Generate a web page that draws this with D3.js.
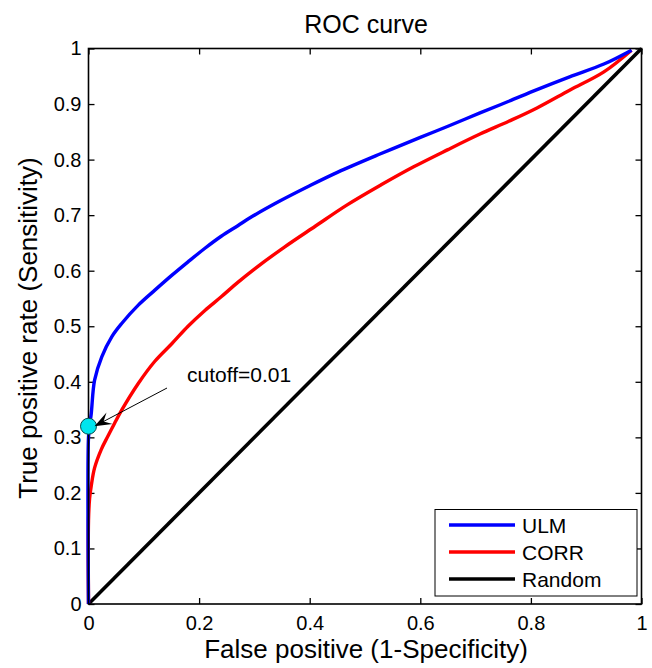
<!DOCTYPE html>
<html><head><meta charset="utf-8">
<script src="https://cdn.jsdelivr.net/npm/d3@7"></script>
<style>body{margin:0;background:#fff}svg{display:block}text{font-family:"Liberation Sans",Arial,sans-serif;fill:#000}</style>
</head><body><svg id="c" width="652" height="668"></svg>
<script>
const ulmFpr = [0,0,0.002,0.005,0.011,0.024,0.042,0.06,0.09,0.12,0.151,0.18,0.21,0.24,0.27,0.295,0.345,0.4,0.45,0.527,0.6,0.65,0.708,0.76,0.811,0.87,0.932,0.982];
const ulmTpr = [0,0.30,0.32,0.343,0.403,0.445,0.481,0.505,0.538,0.565,0.592,0.616,0.64,0.662,0.681,0.697,0.725,0.753,0.777,0.81,0.84,0.86,0.884,0.905,0.926,0.949,0.972,0.997];
const corrFpr = [0,0,0.002,0.005,0.011,0.023,0.035,0.047,0.06,0.09,0.12,0.151,0.18,0.21,0.24,0.27,0.30,0.355,0.41,0.467,0.53,0.588,0.65,0.708,0.76,0.811,0.87,0.932,0.982];
const corrTpr = [0,0.15,0.19,0.213,0.245,0.278,0.302,0.325,0.349,0.397,0.437,0.469,0.5,0.528,0.553,0.579,0.603,0.643,0.68,0.718,0.755,0.787,0.818,0.846,0.869,0.893,0.925,0.958,0.997];
const randFpr = [0,1];
const randTpr = [0,1];
const seriesNames = ["ULM","CORR","Random"];
const seriesColors = ["#0000ff","#ff0000","#000000"];
const xTicks = [0,0.2,0.4,0.6,0.8,1];
const yTicks = [0,0.1,0.2,0.3,0.4,0.5,0.6,0.7,0.8,0.9,1];
const cutoff = {fpr:0, tpr:0.32, label:"cutoff=0.01"};

const svg = d3.select("#c");
const L=88.5, R=641.5, T=48.5, B=604;
const x = d3.scaleLinear().domain([0,1]).range([L,R]);
const y = d3.scaleLinear().domain([0,1]).range([B,T]);
const fmt = d => d===0?"0":(d===1?"1":String(d));

const gx = svg.append("g").attr("transform",`translate(0,${B})`)
  .call(d3.axisBottom(x).tickValues(xTicks).tickSizeInner(-6).tickSizeOuter(0).tickPadding(12).tickFormat(fmt));
const gxt = svg.append("g").attr("transform",`translate(0,${T})`)
  .call(d3.axisTop(x).tickValues(xTicks).tickSizeInner(-6).tickSizeOuter(0).tickFormat(""));
const gy = svg.append("g").attr("transform",`translate(${L},0)`)
  .call(d3.axisLeft(y).tickValues(yTicks).tickSizeInner(-6).tickSizeOuter(0).tickPadding(7).tickFormat(fmt));
const gyr = svg.append("g").attr("transform",`translate(${R},0)`)
  .call(d3.axisRight(y).tickValues(yTicks).tickSizeInner(-6).tickSizeOuter(0).tickFormat(""));
[gx,gxt,gy,gyr].forEach(g=>{
  g.select(".domain").remove();
  g.selectAll(".tick line").attr("stroke","#000").attr("stroke-width",1.3);
  g.selectAll("text").attr("font-size",20).attr("font-family","Liberation Sans, Arial, sans-serif").attr("fill","#000");
});
gx.selectAll("text").attr("dy","0.71em");

const line = d3.line().x(d=>x(d[0])).y(d=>y(d[1])).curve(d3.curveCatmullRom.alpha(0.5));
const data = [
  d3.zip(ulmFpr,ulmTpr),
  d3.zip(corrFpr,corrTpr),
  d3.zip(randFpr,randTpr)
];
[2,1,0].forEach(i=>{
  svg.append("path").datum(data[i]).attr("d",line).attr("fill","none")
    .attr("stroke",seriesColors[i]).attr("stroke-width",i===2?3.6:3.4)
    .attr("stroke-linejoin","round");
});

svg.append("rect").attr("x",L).attr("y",T).attr("width",R-L).attr("height",B-T)
  .attr("fill","none").attr("stroke","#000").attr("stroke-width",1.6);

const cx = x(cutoff.fpr), cy = y(cutoff.tpr);
svg.append("circle").attr("cx",cx).attr("cy",cy).attr("r",8)
  .attr("fill","#00e5ee").attr("stroke","#0a4a4a").attr("stroke-width",1);
const tail=[167,388], tip=[cx+6,cy];
const ang=Math.atan2(tip[1]-tail[1],tip[0]-tail[0]);
svg.append("line").attr("x1",tail[0]).attr("y1",tail[1]).attr("x2",tip[0]-Math.cos(ang)*8).attr("y2",tip[1]-Math.sin(ang)*8)
  .attr("stroke","#000").attr("stroke-width",1);
const hl=17, hw=6.5;
const bx=tip[0]-Math.cos(ang)*hl, by=tip[1]-Math.sin(ang)*hl;
const px=-Math.sin(ang), py=Math.cos(ang);
const mx=tip[0]-Math.cos(ang)*hl*0.6, my=tip[1]-Math.sin(ang)*hl*0.6;
svg.append("path").attr("d",`M${tip[0]},${tip[1]} L${bx+px*hw},${by+py*hw} L${mx},${my} L${bx-px*hw},${by-py*hw} Z`).attr("fill","#000");
svg.append("text").attr("x",187).attr("y",382).attr("font-size",21).text(cutoff.label);

svg.append("text").attr("x",366).attr("y",33).attr("text-anchor","middle").attr("font-size",25).text("ROC curve");
svg.append("text").attr("x",366).attr("y",658).attr("text-anchor","middle").attr("font-size",26).text("False positive (1-Specificity)");
svg.append("text").attr("transform","translate(37,328) rotate(-90)").attr("text-anchor","middle").attr("font-size",26).text("True positive rate (Sensitivity)");

const lg = svg.append("g");
lg.append("rect").attr("x",435).attr("y",509.5).attr("width",202).attr("height",86.5)
  .attr("fill","#fff").attr("stroke","#000").attr("stroke-width",1);
seriesNames.forEach((n,i)=>{
  const yy = 525 + i*27;
  lg.append("line").attr("x1",449).attr("x2",515).attr("y1",yy).attr("y2",yy)
    .attr("stroke",seriesColors[i]).attr("stroke-width",3.4);
  lg.append("text").attr("x",522).attr("y",yy+7.5).attr("font-size",21).text(n);
});
</script></body></html>
